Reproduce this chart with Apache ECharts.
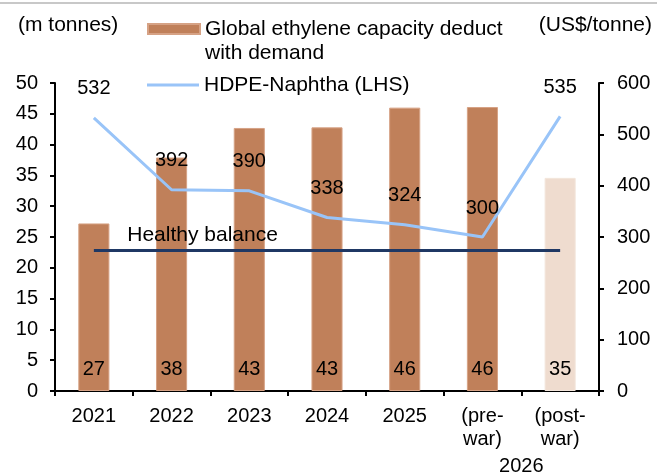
<!DOCTYPE html>
<html>
<head>
<meta charset="utf-8">
<script src="https://cdn.jsdelivr.net/npm/echarts@6/dist/echarts.min.js"></script>
<style>
html,body{margin:0;padding:0;background:#fff;}
#chart{width:657px;height:475px;}
</style>
</head>
<body>
<div id="chart"></div>
<script>
// ---- data ----
var categories = ['2021', '2022', '2023', '2024', '2025', '(pre-\nwar)', '(post-\nwar)'];
var groupLabel = '2026';
var capacity = [27.2, 37.9, 42.7, 42.8, 46.0, 46.1, 34.6];
var spread = [532, 392, 390, 338, 324, 300, 535];
var healthyBalance = [22.8, 22.8, 22.8, 22.8, 22.8, 22.8, 22.8];
var leftTicks = {min: 0, max: 50, interval: 5};
var rightTicks = {min: 0, max: 600, interval: 100};
var barName = 'Global ethylene capacity deduct\nwith demand';
var lineName = 'HDPE-Naphtha (LHS)';
var balanceName = 'Healthy balance';
var leftUnit = '(m tonnes)';
var rightUnit = '(US$/tonne)';

var FONT = 'Liberation Sans, Arial, sans-serif';
var FS = 20;
var FS2 = 21;
var BROWN = '#C0805A';
var LIGHT = '#EFDCCF';

var chart = echarts.init(document.getElementById('chart'), null, {renderer: 'canvas'});

var barData = capacity.map(function (v, i) {
  var d = {value: v};
  if (i === capacity.length - 1) {
    d.itemStyle = {color: LIGHT, borderColor: '#F3E6DC'};
  }
  return d;
});

var balanceData = healthyBalance.map(function (v, i) {
  var d = {value: v};
  if (i === 1) {
    d.label = {show: true, formatter: balanceName, position: 'top', offset: [31, 0], distance: 5,
      color: '#000', fontSize: FS2, fontFamily: FONT};
  }
  return d;
});

var axisLineStyle = {color: '#000', width: 2};

var option = {
  animation: false,
  backgroundColor: '#fff',
  textStyle: {fontFamily: FONT},
  grid: {left: 55, right: 58, top: 83, bottom: 84, containLabel: false},
  legend: [
    {
      data: [barName], left: 147, top: -7, padding: 0, icon: 'rect',
      itemWidth: 52, itemHeight: 10, itemGap: 0,
      formatter: function (name) { return '\n' + name; },
      textStyle: {fontSize: FS2, color: '#000', fontFamily: FONT, lineHeight: 24}
    },
    {
      data: [lineName], left: 147, top: 73, padding: 0, icon: 'rect',
      itemWidth: 52, itemHeight: 3, itemGap: 0,
      textStyle: {fontSize: FS2, color: '#000', fontFamily: FONT, lineHeight: 24}
    }
  ],
  xAxis: {
    type: 'category',
    data: categories,
    axisLine: {lineStyle: axisLineStyle},
    axisTick: {show: true, alignWithLabel: false, length: 5, lineStyle: {color: '#000', width: 2}},
    axisLabel: {color: '#000', fontSize: FS, fontFamily: FONT, lineHeight: 23, margin: 14, interval: 0}
  },
  yAxis: [
    {
      type: 'value', min: leftTicks.min, max: leftTicks.max, interval: leftTicks.interval,
      position: 'left',
      axisLine: {show: true, lineStyle: axisLineStyle},
      axisTick: {show: true, length: 5, lineStyle: {color: '#000', width: 2}},
      axisLabel: {color: '#000', fontSize: FS, fontFamily: FONT, margin: 17},
      splitLine: {show: false}
    },
    {
      type: 'value', min: rightTicks.min, max: rightTicks.max, interval: rightTicks.interval,
      position: 'right',
      axisLine: {show: true, lineStyle: axisLineStyle},
      axisTick: {show: true, length: 5, lineStyle: {color: '#000', width: 2}},
      axisLabel: {color: '#000', fontSize: FS, fontFamily: FONT, margin: 18},
      splitLine: {show: false}
    }
  ],
  series: [
    {
      name: barName,
      type: 'bar',
      yAxisIndex: 0,
      data: barData,
      barWidth: '40%',
      itemStyle: {color: BROWN, borderColor: '#D6A285', borderWidth: 1},
      label: {
        show: true, position: 'insideBottom', distance: 12,
        color: '#000', fontSize: FS, fontFamily: FONT,
        formatter: function (p) { return Math.round(p.value); }
      },
      z: 2
    },
    {
      name: balanceName,
      type: 'line',
      yAxisIndex: 0,
      data: balanceData,
      symbol: 'circle',
      symbolSize: 0,
      showSymbol: true,
      lineStyle: {color: '#1F3864', width: 3},
      itemStyle: {color: '#1F3864'},
      label: {show: false},
      z: 3
    },
    {
      name: lineName,
      type: 'line',
      yAxisIndex: 1,
      data: spread,
      symbol: 'circle',
      symbolSize: 0,
      showSymbol: true,
      lineStyle: {color: '#99C4F8', width: 3},
      itemStyle: {color: '#99C4F8'},
      label: {show: true, position: 'top', distance: 19, color: '#000', fontSize: FS, fontFamily: FONT},
      z: 4
    }
  ],
  graphic: []
};

chart.setOption(option);

var x5 = chart.convertToPixel({xAxisIndex: 0}, 5);
var x6 = chart.convertToPixel({xAxisIndex: 0}, 6);
var yBottom = chart.convertToPixel({yAxisIndex: 0}, 0);

chart.setOption({
  graphic: [
    {type: 'rect', shape: {x: 0, y: 2, width: 657, height: 2}, style: {fill: '#C8C8C8'}, silent: true},
    {type: 'text', left: 18, top: 15, style: {text: leftUnit, font: FS2 + 'px ' + FONT, fill: '#000'}},
    {type: 'text', right: 5, top: 15, style: {text: rightUnit, font: FS2 + 'px ' + FONT, fill: '#000'}},
    {type: 'text', x: (x5 + x6) / 2, y: yBottom + 75,
     style: {text: groupLabel, font: FS + 'px ' + FONT, fill: '#000', textAlign: 'center', textVerticalAlign: 'middle'}}
  ]
});
</script>
</body>
</html>
